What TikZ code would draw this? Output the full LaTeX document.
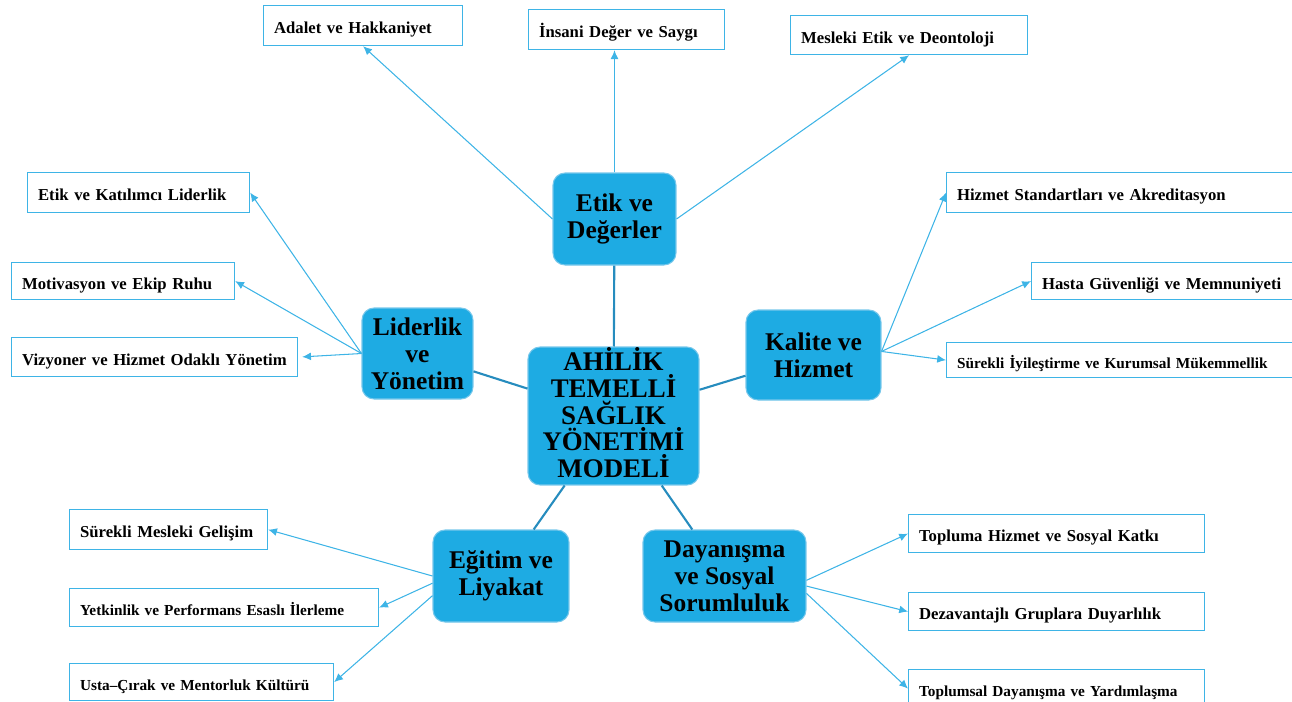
\documentclass[tikz,border=0pt]{standalone}
\usepackage{fontspec}
\setmainfont{Liberation Serif}
\usetikzlibrary{shapes,arrows.meta,positioning}
\definecolor{hubblue}{RGB}{30,171,227}
\definecolor{hubedge}{RGB}{120,200,235}
\definecolor{leafline}{RGB}{62,180,230}
\definecolor{hublink}{RGB}{38,140,190}

\begin{document}
\begin{tikzpicture}[x=0.02cm, y=-0.02cm,
	hub/.style={draw=hubedge, fill=hubblue, line width=0.6pt, rounded corners=0.24cm, align=center, inner sep=0pt, font=\fontsize{14.5}{15.3}\selectfont\bfseries},
	leaf/.style={draw=leafline, line width=0.7pt, anchor=north west, align=left, inner xsep=0.21cm, inner ysep=0pt, minimum height=0.78cm, text height=9pt, text depth=0pt, font=\fontsize{9.5}{11}\selectfont\bfseries},
	longleaf/.style={leaf, font=\fontsize{8.7}{10}\selectfont\bfseries},
	spoke/.style={leafline, line width=0.6pt, -{Latex[length=5pt,width=4.5pt]}},
	link/.style={hublink, line width=1.2pt}]
			\useasboundingbox (0,0) rectangle (1292,701);
			\node (model) [hub, minimum width=3.42cm, minimum height=2.76cm, text depth=4pt, font=\fontsize{15.3}{15.2}\selectfont\bfseries] at (613.5,416) {AHİLİK\\TEMELLİ\\SAĞLIK\\YÖNETİMİ\\MODELİ};
			\node (etik) [hub, minimum width=2.46cm, minimum height=1.84cm] at (614.5,219) {Etik ve\\Değerler};
			\node (kalite) [hub, minimum width=2.7cm, minimum height=1.8cm] at (813.5,355) {Kalite ve\\Hizmet};
			\node (lider) [hub, minimum width=2.22cm, minimum height=1.82cm] at (417.5,353.5) {Liderlik\\ve\\Yönetim};
			\node (egitim) [hub, minimum width=2.72cm, minimum height=1.84cm] at (501,576) {Eğitim ve\\Liyakat};
			\node (dayanisma) [hub, minimum width=3.26cm, minimum height=1.84cm] at (724.5,576) {Dayanışma\\ve Sosyal\\Sorumluluk};
			
			\node (adalet) [leaf, text width=3.56cm, minimum height=0.8cm] at (263,5) {\mbox{Adalet ve Hakkaniyet}};
			\node (insani) [leaf, text width=3.5cm, minimum height=0.8cm] at (528,9) {\mbox{İnsani Değer ve Saygı}};
			\node (mesleki) [leaf, text width=4.32cm] at (790,15) {\mbox{Mesleki Etik ve Deontoloji}};
			
			\node (standart) [leaf, text width=6.66cm, minimum height=0.8cm] at (946,172) {\mbox{Hizmet Standartları ve Akreditasyon}};
			\node (hasta) [leaf, text width=4.96cm, minimum height=0.74cm] at (1031,262) {\mbox{Hasta Güvenliği ve Memnuniyeti}};
			\node (iyilestirme) [longleaf, text width=6.66cm, minimum height=0.7cm] at (946,342) {\mbox{Sürekli İyileştirme ve Kurumsal Mükemmellik}};
			
			\node (katilimci) [leaf, text width=4.02cm, minimum height=0.8cm] at (27,172) {\mbox{Etik ve Katılımcı Liderlik}};
			\node (motivasyon) [leaf, text width=4.04cm, minimum height=0.74cm] at (11,262) {\mbox{Motivasyon ve Ekip Ruhu}};
			\node (vizyoner) [leaf, text width=5.3cm] at (11,337) {\mbox{Vizyoner ve Hizmet Odaklı Yönetim}};
			
			\node (gelisim) [leaf, text width=3.54cm, minimum height=0.8cm] at (69,509) {\mbox{Sürekli Mesleki Gelişim}};
			\node (yetkinlik) [longleaf, text width=5.76cm, minimum height=0.76cm] at (69,588) {\mbox{Yetkinlik ve Performans Esaslı İlerleme}};
			\node (usta) [longleaf, text width=4.86cm, minimum height=0.74cm] at (69,663) {\mbox{Usta–Çırak ve Mentorluk Kültürü}};
			
			\node (topluma) [leaf, text width=5.5cm, minimum height=0.76cm] at (908,514) {\mbox{Topluma Hizmet ve Sosyal Katkı}};
			\node (dezavantajli) [leaf, text width=5.5cm, minimum height=0.76cm] at (908,592) {\mbox{Dezavantajlı Gruplara Duyarlılık}};
			\node (toplumsal) [longleaf, text width=5.5cm, minimum height=0.76cm] at (908,669) {\mbox{Toplumsal Dayanışma ve Yardımlaşma}};
			
			\draw[link] (model) -- (etik);
			\draw[link] (model) -- (kalite);
			\draw[link] (model) -- (lider);
			\draw[link] (model) -- (egitim);
			\draw[link] (model) -- (dayanisma);
			
			\draw[spoke] (etik.west) -- (adalet.south);
			\draw[spoke] (etik.north) -- (etik.north |- insani.south);
			\draw[spoke] (etik.east) -- (mesleki.south);
			
			\draw[spoke] (kalite.3) -- (standart.west);
			\draw[spoke] (kalite.3) -- (hasta.west);
			\draw[spoke] (kalite.3) -- (iyilestirme.west);
			
			\draw[spoke] (lider.west) -- (katilimci.east);
			\draw[spoke] (lider.west) -- (motivasyon.east);
			\draw[spoke, shorten >=0.08cm] (lider.west) -- (vizyoner.east);
			
			\draw[spoke] (egitim.west) -- (gelisim.east);
			\draw[spoke] (egitim.186) -- (yetkinlik.east);
			\draw[spoke] (egitim.196) -- (usta.east);
			
			\draw[spoke] (dayanisma.-3) -- (topluma.west);
			\draw[spoke] (dayanisma.-7) -- (dezavantajli.west);
			\draw[spoke] (dayanisma.-12) -- (toplumsal.west);
		\end{tikzpicture}
\end{document}
